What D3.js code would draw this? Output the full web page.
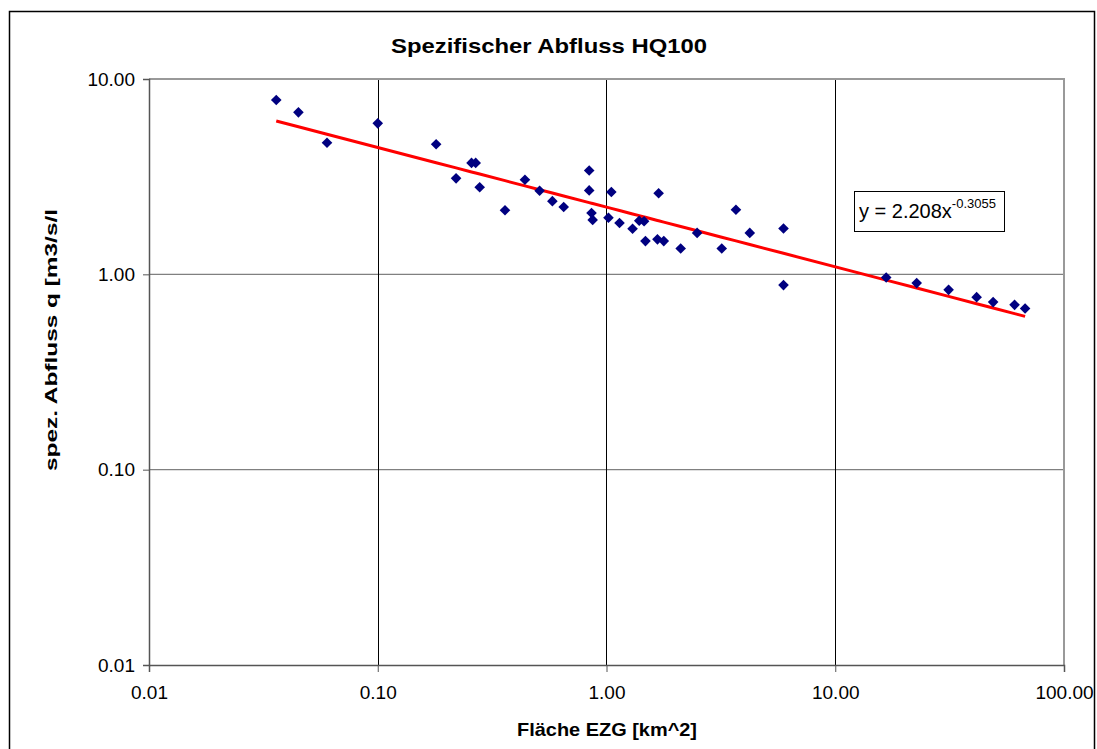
<!DOCTYPE html>
<html>
<head>
<meta charset="utf-8">
<script src="https://cdn.jsdelivr.net/npm/d3@7"></script>
<style>
  html, body { margin: 0; padding: 0; background: #fff; }
  svg { display: block; }
  text { font-family: "Liberation Sans", Arial, sans-serif; }
</style>
</head>
<body>
<svg id="chart" width="1097" height="749"></svg>
<script>
// ---- data ----
const areaKm2 = [0.036, 0.045, 0.060, 0.100, 0.18, 0.22, 0.257, 0.268, 0.279, 0.36,
                 0.44, 0.51, 0.58, 0.65, 0.84, 0.84, 0.86, 0.87, 1.02, 1.05,
                 1.14, 1.30, 1.39, 1.46, 1.48, 1.67, 1.69, 1.78, 2.11, 2.49,
                 3.19, 3.68, 4.23, 5.94, 5.94, 16.7, 22.7, 31.3, 41.5, 49.0,
                 60.8, 67.6];
const specQ = [7.81, 6.75, 4.72, 5.93, 4.63, 3.10, 3.72, 3.72, 2.79, 2.13,
               3.05, 2.68, 2.37, 2.21, 3.40, 2.69, 2.06, 1.90, 1.95, 2.64,
               1.83, 1.71, 1.88, 1.87, 1.48, 1.51, 2.60, 1.48, 1.355, 1.63,
               1.355, 2.14, 1.63, 1.715, 0.881, 0.963, 0.902, 0.833, 0.764, 0.721,
               0.698, 0.669];
const trendA = 2.208;
const trendB = -0.3055;
const xTickValues = [0.01, 0.1, 1, 10, 100];
const xTickLabels = ["0.01", "0.10", "1.00", "10.00", "100.00"];
const yTickValues = [0.01, 0.1, 1, 10];
const yTickLabels = ["0.01", "0.10", "1.00", "10.00"];
const titleText = "Spezifischer Abfluss HQ100";
const xTitle = "Fläche EZG [km^2]";
const yTitle = "spez.  Abfluss q [m3/s/l";

// ---- layout ----
const svg = d3.select("#chart");
const L = 149, R = 1064, T = 79, B = 665;

const x = d3.scaleLog().domain([0.01, 100]).range([L, R]);
const y = d3.scaleLog().domain([0.01, 10]).range([B, T]);

// outer chart border
svg.append("rect").attr("x", 9.5).attr("y", 11.5).attr("width", 1085).attr("height", 760)
  .attr("fill", "#fff").attr("stroke", "#000").attr("stroke-width", 1.5);

// horizontal gridlines
svg.append("g").selectAll("line").data(yTickValues.filter(v => v > 0.01 && v < 10)).join("line")
  .attr("x1", L).attr("x2", R).attr("y1", d => y(d)).attr("y2", d => y(d))
  .attr("stroke", "#808080").attr("stroke-width", 1.3);

// vertical gridlines
svg.append("g").selectAll("line").data(xTickValues.filter(v => v > 0.01 && v < 100)).join("line")
  .attr("x1", d => Math.round(x(d)) + 0.5).attr("x2", d => Math.round(x(d)) + 0.5)
  .attr("y1", T).attr("y2", B)
  .attr("stroke", "#000").attr("stroke-width", 1);

// plot border top/right
svg.append("path").attr("d", `M${L},${T}H${R}V${B}`)
  .attr("fill", "none").attr("stroke", "#999").attr("stroke-width", 2);

// axes
const xAxis = d3.axisBottom(x).tickValues(xTickValues)
  .tickFormat((d, i) => xTickLabels[i]).tickSize(7).tickPadding(14);
const gx = svg.append("g").attr("transform", `translate(0,${B})`).call(xAxis);
gx.select(".domain").attr("stroke", "#555").attr("stroke-width", 1.5);
gx.selectAll(".tick line").attr("stroke", "#555");
gx.selectAll("text").attr("font-size", 19).attr("fill", "#000")
  .attr("font-family", "'Liberation Sans', Arial, sans-serif");

const yAxis = d3.axisLeft(y).tickValues(yTickValues)
  .tickFormat((d, i) => yTickLabels[i]).tickSize(6).tickPadding(8);
const gy = svg.append("g").attr("transform", `translate(${L},0)`).call(yAxis);
gy.select(".domain").attr("stroke", "#555").attr("stroke-width", 1.5);
gy.selectAll(".tick line").attr("stroke", "#555");
gy.selectAll("text").attr("font-size", 19).attr("fill", "#000")
  .attr("font-family", "'Liberation Sans', Arial, sans-serif");

// trendline (power fit as in the reference label) at the data x values
const xsSorted = areaKm2.slice().sort((a, b) => a - b);
const trendPts = xsSorted.map(v => [v, trendA * Math.pow(v, trendB)]);
svg.append("path").datum(trendPts)
  .attr("d", d3.line().x(d => x(d[0])).y(d => y(d[1])))
  .attr("fill", "none").attr("stroke", "#ff0000").attr("stroke-width", 3);

// markers (diamonds)
const pts = areaKm2.map((v, i) => [v, specQ[i]]);
const s = 5.3;
svg.append("g").selectAll("path").data(pts).join("path")
  .attr("d", d => {
    const cx = x(d[0]), cy = y(d[1]);
    return `M${cx},${cy - s}L${cx + s},${cy}L${cx},${cy + s}L${cx - s},${cy}Z`;
  })
  .attr("fill", "#000080");

// equation label
const eq = svg.append("g");
eq.append("rect").attr("x", 854.5).attr("y", 191.5).attr("width", 150).attr("height", 40)
  .attr("fill", "#fff").attr("stroke", "#000").attr("stroke-width", 1);
const eqText = eq.append("text").attr("x", 859).attr("y", 218).attr("font-size", 20).attr("fill", "#000");
eqText.append("tspan").text("y = " + trendA.toFixed(3) + "x");
eqText.append("tspan").attr("font-size", 13).attr("dy", -10).text(String(trendB));

// titles
svg.append("text").attr("x", 549).attr("y", 53).attr("text-anchor", "middle")
  .attr("font-size", 21).attr("font-weight", "bold")
  .attr("textLength", 316).attr("lengthAdjust", "spacingAndGlyphs")
  .text(titleText);

svg.append("text").attr("x", 607).attr("y", 736).attr("text-anchor", "middle")
  .attr("font-size", 19).attr("font-weight", "bold")
  .attr("textLength", 180).attr("lengthAdjust", "spacingAndGlyphs")
  .text(xTitle);

svg.append("text").attr("transform", "translate(57,340) rotate(-90)").attr("text-anchor", "middle")
  .attr("font-size", 17).attr("font-weight", "bold")
  .attr("textLength", 262).attr("lengthAdjust", "spacingAndGlyphs")
  .text(yTitle);
</script>
</body>
</html>
